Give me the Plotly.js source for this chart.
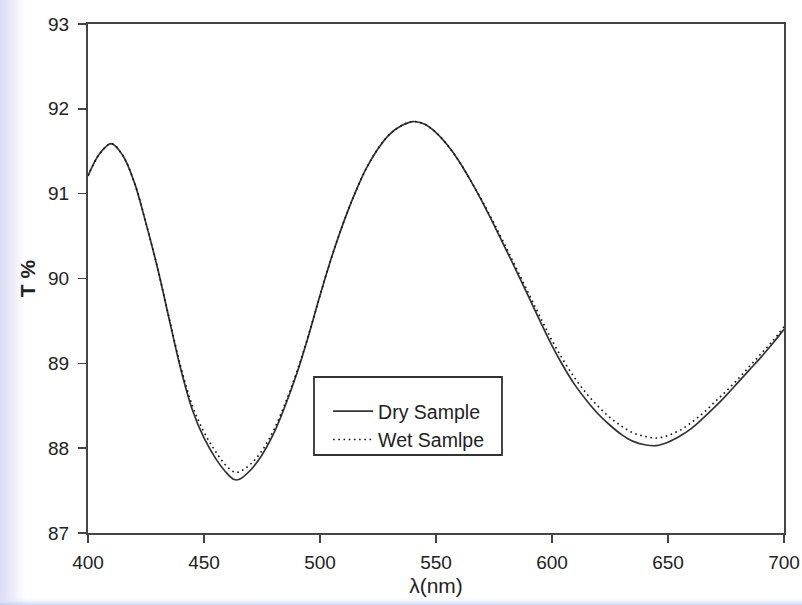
<!DOCTYPE html>
<html>
<head>
<meta charset="utf-8">
<script src="https://cdn.plot.ly/plotly-3.0.1.min.js"></script>
<style>
  html, body { margin: 0; padding: 0; }
  body {
    width: 802px; height: 605px;
    background:
      linear-gradient(to top, rgba(190,205,240,0.8) 0px, rgba(225,232,248,0.5) 4px, rgba(255,255,255,0) 7px),
      linear-gradient(to right, #dcdcf4 0px, #eeeefa 14px, #ffffff 26px);
  }
  #chart { width: 802px; height: 605px; }
</style>
</head>
<body>
<div id="chart"></div>
<script>
const wavelength = [400, 405, 410, 415, 420, 425, 430, 435, 440, 445, 450, 455, 460, 463, 465, 470, 475, 480, 485, 490, 495, 500, 505, 510, 515, 520, 525, 530, 535, 540, 545, 550, 555, 560, 565, 570, 575, 580, 585, 590, 595, 600, 605, 610, 615, 620, 625, 630, 635, 640, 645, 650, 655, 660, 665, 670, 675, 680, 685, 690, 695, 700];

const drySample = [91.21, 91.47, 91.59, 91.45, 91.13, 90.65, 90.12, 89.52, 88.93, 88.45, 88.12, 87.88, 87.70, 87.63, 87.63, 87.74, 87.92, 88.17, 88.50, 88.88, 89.32, 89.80, 90.25, 90.65, 91.00, 91.30, 91.53, 91.70, 91.80, 91.85, 91.82, 91.72, 91.57, 91.38, 91.15, 90.90, 90.63, 90.35, 90.07, 89.78, 89.49, 89.21, 88.96, 88.74, 88.56, 88.40, 88.27, 88.16, 88.08, 88.04, 88.03, 88.07, 88.14, 88.23, 88.35, 88.48, 88.62, 88.77, 88.92, 89.07, 89.23, 89.40];

const wetSample = [91.21, 91.47, 91.59, 91.45, 91.13, 90.65, 90.12, 89.53, 88.96, 88.50, 88.19, 87.96, 87.78, 87.72, 87.72, 87.81, 87.97, 88.21, 88.53, 88.90, 89.33, 89.80, 90.25, 90.65, 91.00, 91.30, 91.53, 91.70, 91.80, 91.85, 91.82, 91.72, 91.57, 91.38, 91.15, 90.91, 90.65, 90.38, 90.10, 89.82, 89.54, 89.27, 89.03, 88.82, 88.64, 88.49, 88.36, 88.26, 88.18, 88.14, 88.12, 88.15, 88.21, 88.30, 88.41, 88.54, 88.67, 88.81, 88.96, 89.11, 89.26, 89.43];

const seriesNames = ['Dry Sample', 'Wet Samlpe'];
const xTicks = [400, 450, 500, 550, 600, 650, 700];
const yTicks = [87, 88, 89, 90, 91, 92, 93];

const fam = 'Liberation Sans, Arial, sans-serif';

const traces = [
  {
    x: wavelength, y: drySample, name: seriesNames[0], type: 'scatter', mode: 'lines',
    legendgroup: 'g1',
    line: { color: '#333333', width: 1.7, shape: 'spline', smoothing: 1 }
  },
  {
    x: wavelength, y: wetSample, name: seriesNames[1], type: 'scatter', mode: 'lines',
    legendgroup: 'g2',
    line: { color: '#111111', width: 1.6, dash: '1.6px,3.6px', shape: 'spline', smoothing: 1 }
  }
];

const layout = {
  width: 802, height: 605,
  margin: { l: 88, r: 18, t: 24, b: 72 },
  paper_bgcolor: 'rgba(0,0,0,0)',
  plot_bgcolor: '#ffffff',
  font: { family: fam, color: '#222' },
  showlegend: true,
  legend: {
    x: 0.345, y: 0.277, xanchor: 'left', yanchor: 'top',
    bgcolor: 'rgba(0,0,0,0)', borderwidth: 0,
    font: { family: fam, size: 19.5, color: '#222' },
    tracegroupgap: 0, itemwidth: 40
  },
  shapes: [{
    type: 'rect', xref: 'paper', yref: 'paper',
    x0: 0.3247, x1: 0.5948, y0: 0.1532, y1: 0.3065,
    fillcolor: '#ffffff', line: { color: '#333', width: 1.8 }, layer: 'above'
  }],
  xaxis: {
    range: [400, 700], tickvals: xTicks, ticktext: xTicks.map(String),
    showgrid: false, zeroline: false,
    showline: true, linecolor: '#444', linewidth: 2, mirror: true,
    ticks: 'outside', ticklen: 8, tickwidth: 1.5, tickcolor: '#444',
    ticklabelstandoff: 3,
    tickfont: { family: fam, size: 19, color: '#222' },
    title: { text: 'λ(nm)', font: { family: fam, size: 21, color: '#222' }, standoff: 7 }
  },
  yaxis: {
    range: [87, 93], tickvals: yTicks, ticktext: yTicks.map(String),
    showgrid: false, zeroline: false,
    showline: true, linecolor: '#444', linewidth: 2, mirror: true,
    ticks: 'outside', ticklen: 8, tickwidth: 1.5, tickcolor: '#444',
    ticklabelstandoff: 5,
    tickfont: { family: fam, size: 19, color: '#222' },
    title: { text: '<b>T %</b>', font: { family: fam, size: 21, color: '#222' }, standoff: 7 }
  }
};

Plotly.newPlot('chart', traces, layout, { staticPlot: true, displayModeBar: false });
</script>
</body>
</html>
